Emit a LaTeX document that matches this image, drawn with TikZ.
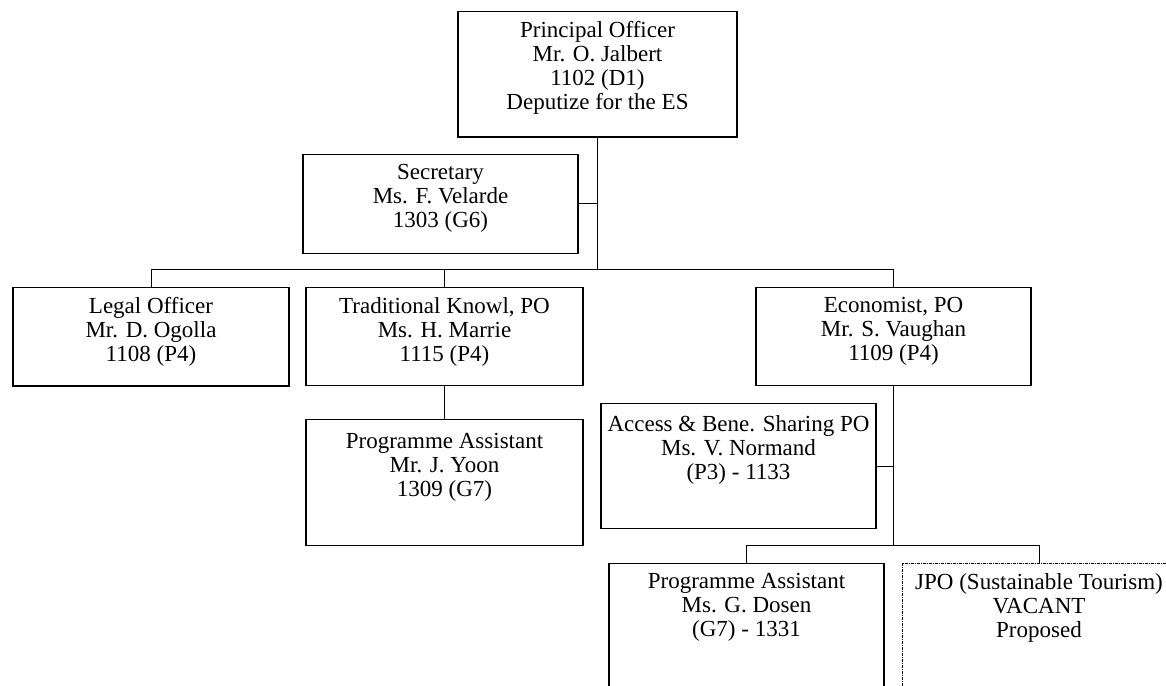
\documentclass[tikz,border=0pt]{standalone}
\usepackage{fontspec}
\setmainfont{Liberation Serif}

\tikzset{
	box/.style={draw, line width=1.1pt, anchor=north, align=center, inner xsep=3pt, inner ysep=10pt,
		font=\fontsize{23}{24}\selectfont},
	vacantbox/.style={box, line width=0.8pt, dash pattern=on 3pt off 1pt on 1pt off 1pt},
	link/.style={line width=1pt}
}

\begin{document}
\begin{tikzpicture}[x=1pt,y=1pt]
		\clip (0,0) rectangle (1166,-685);
		\node[box, minimum width=279pt, text depth=17.3pt] (po) at (597.5,-11) {Principal Officer\\Mr. O. Jalbert\\1102 (D1)\\Deputize for the ES};
		\node[box, minimum width=275pt, text depth=15.3pt] (sec) at (440.5,-154) {Secretary\\Ms. F. Velarde\\1303 (G6)};
		\node[box, minimum width=276pt, text depth=14.3pt] (legal) at (151,-287) {Legal Officer\\Mr. D. Ogolla\\1108 (P4)};
		\node[box, minimum width=277pt, text depth=14.3pt] (trad) at (444.5,-287) {Traditional Knowl, PO\\Ms. H. Marrie\\1115 (P4)};
		\node[box, minimum width=275pt, text depth=14.3pt] (econ) at (893.5,-287) {Economist, PO\\Mr. S. Vaughan\\1109 (P4)};
		\node[box, minimum width=277pt, inner ysep=14pt, text depth=34.3pt] (yoon) at (444.5,-419) {Programme Assistant\\Mr. J. Yoon\\1309 (G7)};
		\node[box, minimum width=275pt, inner ysep=12pt, text depth=37.3pt] (abs) at (738.5,-403) {Access \& Bene. Sharing PO\\Ms. V. Normand\\(P3) - 1133};
		\node[box, minimum width=275pt, text depth=46.3pt] (dosen) at (746.5,-563) {Programme Assistant\\Ms. G. Dosen\\(G7) - 1331};
		\node[vacantbox, minimum width=274pt, text depth=46.3pt] (jpo) at (1039,-563) {JPO (Sustainable Tourism)\\VACANT\\Proposed};
		\coordinate (bar1) at (0,-269);
		\coordinate (bar2) at (0,-545);
		\draw[link] (po.south) -- (po.south |- bar1);
		\draw[link] (sec.east) -- (sec.east -| po.south);
		\draw[link] (legal.north) |- (econ.north |- bar1) -- (econ.north);
		\draw[link] (trad.north) -- (trad.north |- bar1);
		\draw[link] (trad.south) -- (yoon.north);
		\draw[link] (econ.south) -- (econ.south |- bar2);
		\draw[link] (abs.east) -- (abs.east -| econ.south);
		\draw[link] (dosen.north) |- (jpo.north |- bar2) -- (jpo.north);
	\end{tikzpicture}
\end{document}
